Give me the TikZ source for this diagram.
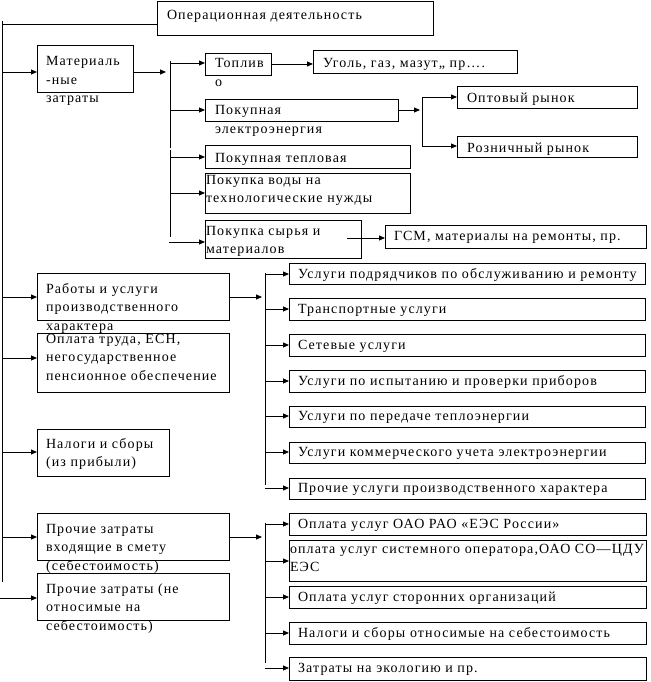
\documentclass[tikz,border=0pt]{standalone}
\usepackage{fontspec}
\setmainfont{Liberation Serif}[LetterSpace=8]
\usetikzlibrary{arrows.meta}
\newcommand\Bx[5]{\node[bx,minimum width={#4-#2},minimum height={#5-#3}] (#1) at ({(#2+#4)/2},{(#3+#5)/2}) {};}
\newcommand\Tx[4]{\node[tx] (#1) at (#2,{#3-12.95}) {\strut #4};}
\newcommand\Br[3]{\coordinate (#1) at (#2); \draw[arr] (#1) -- (#1 -| #3.west);}
\begin{document}
\begin{tikzpicture}[x=1pt,y=-1pt,
  bx/.style={draw,line width=0.9pt,inner sep=0pt,outer sep=0pt},
  tx/.style={anchor=north west,inner sep=0pt,outer sep=0pt,align=left,font=\fontsize{14}{18.5}\selectfont},
  ln/.style={line width=0.9pt},
  arr/.style={ln,-{Triangle[length=6pt,width=5pt]}}]
\useasboundingbox (0,0) rectangle (650,682);
% boxes
\Bx{op}{157}{1}{433}{35}
\Bx{mat}{37}{45}{133}{92}
\Bx{top}{205}{53}{271}{75}
\Bx{ugol}{313}{50}{517}{73}
\Bx{pel}{205}{99}{398}{121}
\Bx{opt}{457}{86}{637}{108}
\Bx{rozn}{457}{136}{637}{157}
\Bx{tepl}{205}{145}{410}{168}
\Bx{voda}{205}{173}{410}{213}
\Bx{syr}{205}{220}{361}{258}
\Bx{gsm}{385}{225}{646}{248}
\Bx{rab}{37}{273}{229}{320}
\Bx{opl}{37}{333}{229}{392}
\Bx{nal}{37}{429}{169}{476}
\Bx{pra}{37}{513}{229}{560}
\Bx{prb}{37}{573}{229}{620}
\Bx{sa}{289}{263}{645}{284}
\Bx{sb}{289}{298}{645}{320}
\Bx{sc}{289}{334}{645}{356}
\Bx{sd}{289}{370}{645}{392}
\Bx{se}{289}{406}{645}{427}
\Bx{sf}{289}{442}{645}{463}
\Bx{sg}{289}{478}{645}{499}
\Bx{oa}{289}{513}{646}{535}
\Bx{ob}{289}{540}{646}{581}
\Bx{oc}{289}{586}{646}{608}
\Bx{od}{289}{622}{646}{644}
\Bx{oe}{289}{657}{646}{680}
% texts
\Tx{opT}{167}{20}{Операционная деятельность}
\Tx{matT}{46}{66}{Материаль\\-ные\\затраты}
\Tx{topT}{215}{68}{Топлив\\о}
\Tx{ugolT}{323}{68}{Уголь, газ, мазут,, пр….}
\Tx{pelT}{215}{115}{Покупная\\электроэнергия}
\Tx{optT}{467}{103}{Оптовый рынок}
\Tx{roznT}{467}{152}{Розничный рынок}
\Tx{teplT}{215}{162}{Покупная тепловая}
\Tx{vodaT}{206}{184}{Покупка воды на\\технологические нужды}
\Tx{syrT}{206}{235}{Покупка сырья и\\материалов}
\Tx{gsmT}{394}{240}{ГСМ, материалы на ремонты, пр.}
\Tx{rabT}{46}{293}{Работы и услуги\\производственного\\характера}
\Tx{oplT}{46}{343}{Оплата труда, ЕСН,\\негосударственное\\пенсионное обеспечение}
\Tx{nalT}{46}{448}{Налоги и сборы\\(из прибыли)}
\Tx{praT}{46}{533}{Прочие затраты\\входящие в смету\\(себестоимость)}
\Tx{prbT}{46}{593}{Прочие затраты (не\\относимые на\\себестоимость)}
\Tx{saT}{298}{278.5}{Услуги подрядчиков по обслуживанию и ремонту}
\Tx{sbT}{298}{313.5}{Транспортные услуги}
\Tx{scT}{298}{349.5}{Сетевые услуги}
\Tx{sdT}{298}{385.5}{Услуги по испытанию и проверки приборов}
\Tx{seT}{298}{420.5}{Услуги по передаче теплоэнергии}
\Tx{sfT}{298}{456.5}{Услуги коммерческого учета электроэнергии}
\Tx{sgT}{298}{492.5}{Прочие услуги производственного характера}
\Tx{oaT}{298}{528.5}{Оплата услуг ОАО РАО «ЕЭС России»}
\Tx{obT}{290}{553}{оплата услуг системного оператора,ОАО СО—ЦДУ\\ЕЭС}
\Tx{ocT}{298}{601.5}{Оплата услуг сторонних организаций}
\Tx{odT}{298}{637.5}{Налоги и сборы относимые на себестоимость}
\Tx{oeT}{298}{672.5}{Затраты на экологию и пр.}
% main trunk
\coordinate (T0) at (2,21); \coordinate (T1) at (2,582);
\draw[ln] (T0) -- (T1);
\coordinate (Ttop) at (2,24);
\draw[ln] (Ttop) -- (Ttop -| op.west);
\Br{c1}{2,72}{mat}
\Br{c2}{2,297}{rab}
\Br{c3}{2,358}{opl}
\Br{c4}{2,452}{nal}
\Br{c5}{2,537}{pra}
\Br{c6}{0,598}{prb}
% material sub-trunk
\coordinate (ms) at (166,72);
\draw[arr] (mat.east |- ms) -- (ms);
\coordinate (mt0) at (170,61); \coordinate (mt1) at (170,148);
\coordinate (mt2) at (170,150); \coordinate (mt3) at (170,237);
\draw[ln] (mt0) -- (mt1); \draw[ln] (mt2) -- (mt3);
\Br{m1}{170,63}{top}
\Br{m2}{170,110}{pel}
\Br{m3}{170,157}{tepl}
\Br{m4}{170,193}{voda}
\Br{m5}{169,242}{syr}
\coordinate (tu) at (top.east);
\draw[arr] (tu) -- (tu -| ugol.west);
% electricity sub-trunk
\coordinate (es) at (420,110);
\draw[arr] (pel.east |- es) -- (es);
\coordinate (et0) at (422,97); \coordinate (et1) at (422,147);
\draw[ln] (et0) -- (et1);
\Br{e1}{422,97}{opt}
\Br{e2}{422,146}{rozn}
% syr -> gsm
\coordinate (sg0) at (347,238);
\draw[arr] (sg0) -- (sg0 -| gsm.west);
% services sub-trunk
\coordinate (ss) at (262,297);
\draw[arr] (rab.east |- ss) -- (ss);
\coordinate (st0) at (265,273); \coordinate (st1) at (265,485);
\draw[ln] (st0) -- (st1);
\Br{s1}{265,274}{sa}
\Br{s2}{265,309}{sb}
\Br{s3}{265,345}{sc}
\Br{s4}{265,381}{sd}
\Br{s5}{265,416}{se}
\Br{s6}{265,452}{sf}
\Br{s7}{265,488}{sg}
% other costs sub-trunk
\coordinate (os) at (262,537);
\draw[arr] (pra.east |- os) -- (os);
\coordinate (ot0) at (265,523); \coordinate (ot1) at (265,663);
\draw[ln] (ot0) -- (ot1);
\Br{o1}{265,524}{oa}
\Br{o2}{265,561}{ob}
\Br{o3}{265,597}{oc}
\Br{o4}{265,633}{od}
\Br{o5}{265,668}{oe}
\end{tikzpicture}
\end{document}
